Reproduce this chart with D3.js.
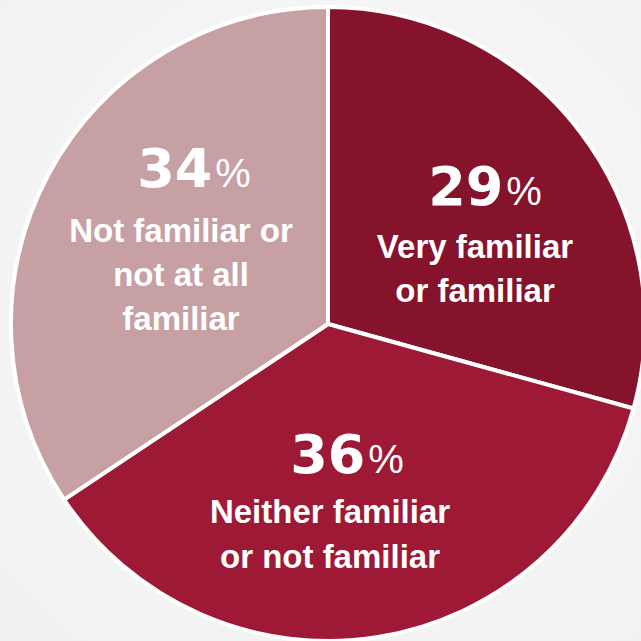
<!DOCTYPE html>
<html>
<head>
<meta charset="utf-8">
<script src="https://cdn.jsdelivr.net/npm/d3@7"></script>
<style>
  html, body { margin: 0; padding: 0; background: #f5f5f5; }
  svg { display: block; }
</style>
</head>
<body>
<svg id="chart" width="641" height="641"></svg>
<script>
// Survey responses: familiarity
const categories = ["Very familiar or familiar", "Neither familiar or not familiar", "Not familiar or not at all familiar"];
const values = [29, 36, 34];
const labelLines = [
  ["Very familiar", "or familiar"],
  ["Neither familiar", "or not familiar"],
  ["Not familiar or", "not at all", "familiar"]
];
const colors = ["#84132b", "#9d1935", "#c7a0a4"];

const W = 641, H = 641;
const cx = 328, cy = 324, radius = 317;

const svg = d3.select("#chart");

// soft background
const defs = svg.append("defs");
const bg = defs.append("radialGradient").attr("id", "bg").attr("cx", "55%").attr("cy", "45%").attr("r", "75%");
bg.append("stop").attr("offset", "0%").attr("stop-color", "#fafafa");
bg.append("stop").attr("offset", "100%").attr("stop-color", "#f1f1f1");
svg.append("rect").attr("width", W).attr("height", H).attr("fill", "url(#bg)");

const pie = d3.pie().sort(null).value(d => d)(values);
const arc = d3.arc().innerRadius(0).outerRadius(radius);

const g = svg.append("g").attr("transform", `translate(${cx},${cy})`);

g.selectAll("path.slice")
  .data(pie)
  .join("path")
  .attr("class", "slice")
  .attr("d", arc)
  .attr("fill", (d, i) => colors[i])
  .attr("stroke", "#ffffff")
  .attr("stroke-width", 4)
  .attr("stroke-linejoin", "round");

// label placement relative to the pie centre
const labelPos = [
  { num: [157, -119], text: [147, -66], lh: 44 },
  { num: [19, 149], text: [2, 199], lh: 45 },
  { num: [-134, -137], text: [-147, -82], lh: 44 }
];

pie.forEach((d, i) => {
  const p = labelPos[i];
  const num = g.append("text")
    .attr("x", p.num[0]).attr("y", p.num[1])
    .attr("text-anchor", "middle")
    .attr("fill", "#ffffff");
  num.append("tspan")
    .attr("font-family", "'DejaVu Sans', sans-serif")
    .attr("font-weight", "bold")
    .attr("font-size", 54)
    .text(d.data);
  num.append("tspan")
    .attr("dx", 3)
    .attr("font-family", "'Liberation Sans', Arial, sans-serif")
    .attr("font-size", 40)
    .text("%");

  const t = g.append("text")
    .attr("text-anchor", "middle")
    .attr("fill", "#ffffff")
    .attr("font-family", "'Liberation Sans', Arial, sans-serif")
    .attr("font-weight", "bold")
    .attr("font-size", 33);
  labelLines[i].forEach((line, j) => {
    t.append("tspan")
      .attr("x", p.text[0])
      .attr("y", p.text[1] + j * p.lh)
      .text(line);
  });
});
</script>
</body>
</html>
